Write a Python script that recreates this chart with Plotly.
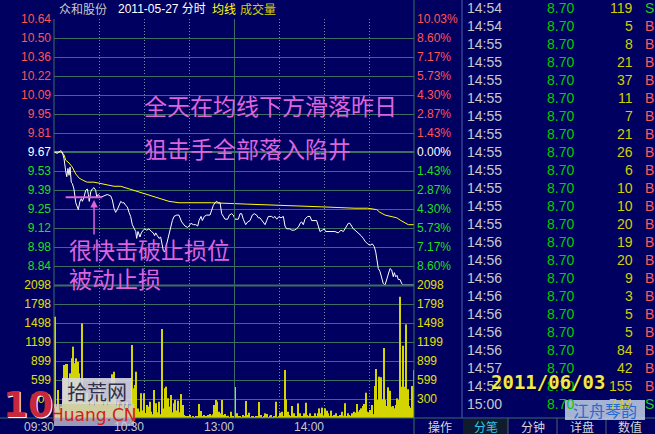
import plotly.graph_objects as go

BG = "#000060"
GRID = "#3d6e62"
DOT = "#6c8ca0"
RED = "#ff5555"
GREEN = "#22dd22"
YEL = "#e0e000"
MAG = "#dc64dc"
NUM = "Liberation Sans, Arial, sans-serif"
CJK = "Noto Sans CJK SC, sans-serif"

# ---------------- data ----------------
prev_close = 9.67
price_step = 0.13855           # 1.43 % of previous close
vol_step = 299.71

price_minute = [0, 2.2, 3.3, 4.5, 5.5, 6.7, 7.8, 8.5, 9.3, 10,
                10.7, 11.5, 12.2, 13.3, 14.5, 15.5, 16.2, 17.3, 18.2, 18.9,
                20, 21.1, 22.2, 22.9, 23.5, 24.5, 25.5, 26.7, 27.8, 28.5,
                29.5, 31.1, 33.3, 35.5, 37.8, 38.9, 40, 41.1, 42.2, 43.3,
                44.5, 45.5, 46.7, 47.8, 48.9, 50, 51.1, 52.2, 53.3, 54.5,
                55.1, 56, 57.3, 58.2, 59.5, 60.5, 61.8, 63.3, 64.9, 66.2,
                67.1, 67.8, 68.9, 70, 71.1, 72.2, 72.9, 73.8, 74.7, 75.5,
                76.7, 77.8, 78.9, 80, 81.8, 83.3, 84, 85.1, 87.3, 89.1,
                90, 91.3, 92.9, 94.5, 95.8, 96.7, 98, 98.9, 100.2, 101.8,
                104, 105.1, 106.2, 107.3, 108.5, 109.5, 110.7, 111.8, 112.9, 114,
                115.8, 116.9, 118.5, 119.5, 120.7, 122.9, 124, 125.1, 126.2, 127.8,
                129.1, 130.7, 132.2, 133.5, 135.1, 136.2, 137.3, 138.9, 140.7, 141.8,
                142.9, 145.1, 146.2, 147.3, 148.5, 150, 151.3, 152.9, 154, 155.1,
                157.3, 158.5, 160.2, 161.8, 163.3, 164, 165.1, 166.2, 167.3, 169.1,
                170.7, 171.8, 172.9, 175.1, 176.2, 177.3, 178.9, 180.2, 181.1, 182.9,
                185.1, 187.3, 189.5, 191.3, 192.9, 194, 195.1, 196.2, 197.3, 198.5,
                199.5, 200.7, 202.9, 204.7, 206.2, 207.3, 209.1, 210.7, 212.2, 213.5,
                214.5, 215.1, 216.2, 217.3, 218.5, 219.5, 220.7, 221.8, 222.9, 224,
                225.1, 226.2, 226.9, 227.8, 228.7, 229.5, 230.7, 231.8, 232.9, 240]
price_value = [9.67, 9.66, 9.67, 9.68, 9.67, 9.62, 9.53, 9.49, 9.55, 9.50,
               9.56, 9.45, 9.44, 9.40, 9.30, 9.27, 9.25, 9.31, 9.33, 9.31,
               9.34, 9.39, 9.40, 9.36, 9.31, 9.38, 9.40, 9.41, 9.39, 9.34,
               9.36, 9.34, 9.35, 9.36, 9.35, 9.32, 9.26, 9.23, 9.25, 9.28,
               9.31, 9.30, 9.30, 9.28, 9.27, 9.23, 9.20, 9.14, 9.11, 9.09,
               9.04, 9.09, 9.05, 9.08, 9.10, 9.11, 9.10, 9.11, 9.09, 9.08,
               9.06, 9.08, 9.06, 9.04, 9.05, 9.00, 8.95, 8.94, 8.98, 9.03,
               9.09, 9.14, 9.17, 9.20, 9.21, 9.21, 9.19, 9.16, 9.13, 9.12,
               9.13, 9.15, 9.14, 9.14, 9.13, 9.17, 9.20, 9.17, 9.20, 9.21,
               9.21, 9.25, 9.28, 9.30, 9.31, 9.30, 9.30, 9.22, 9.20, 9.18,
               9.18, 9.21, 9.22, 9.21, 9.18, 9.18, 9.22, 9.22, 9.18, 9.14,
               9.16, 9.17, 9.21, 9.22, 9.21, 9.19, 9.19, 9.17, 9.14, 9.17,
               9.20, 9.20, 9.19, 9.20, 9.18, 9.20, 9.19, 9.20, 9.13, 9.11,
               9.11, 9.10, 9.10, 9.11, 9.13, 9.15, 9.16, 9.14, 9.18, 9.20,
               9.20, 9.17, 9.17, 9.17, 9.13, 9.09, 9.10, 9.11, 9.09, 9.09,
               9.09, 9.09, 9.08, 9.10, 9.09, 9.11, 9.14, 9.15, 9.15, 9.13,
               9.11, 9.10, 9.08, 9.06, 9.04, 9.02, 9.00, 8.99, 9.00, 8.98,
               8.94, 8.89, 8.82, 8.80, 8.75, 8.71, 8.70, 8.74, 8.79, 8.82,
               8.81, 8.76, 8.79, 8.76, 8.77, 8.74, 8.74, 8.71, 8.70, 8.70]

avg_minute = [0, 4.5, 6.7, 7.8, 10, 12.2, 14.5, 16.7, 20, 22.2,
              26.7, 31.1, 37.8, 40, 44.5, 53.3, 57.8, 62.2, 66.7, 71.1,
              76.7, 83.3, 105.1, 128.5, 154, 164, 178.5, 200.7, 209.1, 215.1,
              217.3, 220.7, 224, 228.5, 231.3, 234, 236.2, 240]
avg_value = [9.67, 9.67, 9.65, 9.61, 9.59, 9.56, 9.51, 9.48, 9.46, 9.45,
             9.45, 9.44, 9.43, 9.42, 9.42, 9.39, 9.37, 9.36, 9.34, 9.33,
             9.31, 9.30, 9.30, 9.29, 9.28, 9.28, 9.27, 9.26, 9.26, 9.25,
             9.23, 9.21, 9.20, 9.19, 9.17, 9.15, 9.14, 9.14]

volume = [0, 1598, 180, 442, 120, 180, 250, 836, 852, 852,
          300, 705, 941, 1125, 862, 941, 888, 705, 300, 1493,
          350, 250, 400, 300, 200, 350, 280, 200, 300, 250,
          600, 560, 300, 200, 250, 300, 200, 350, 250, 690,
          730, 300, 200, 250, 150, 200, 300, 150, 200, 250,
          150, 200, 1151, 468, 520, 730, 150, 100, 389, 120,
          389, 80, 205, 179, 258, 100, 60, 442, 231, 90,
          258, 60, 1404, 150, 468, 494, 310, 179, 363, 90,
          231, 284, 120, 273, 90, 378, 205, 47, 20, 32,
          20, 47, 15, 21, 15, 32, 20, 221, 110, 30,
          47, 32, 32, 47, 63, 40, 60, 205, 284, 258,
          100, 74, 284, 47, 63, 20, 37, 15, 100, 32,
          20, 489, 74, 20, 32, 15, 47, 20, 268, 47,
          84, 15, 21, 32, 15, 32, 20, 252, 47, 15,
          21, 74, 63, 15, 37, 47, 15, 32, 258, 15,
          21, 84, 100, 21, 757, 294, 100, 47, 20, 189,
          74, 21, 30, 231, 74, 21, 30, 74, 242, 47,
          30, 74, 21, 30, 74, 21, 74, 152, 74, 163,
          40, 152, 116, 74, 21, 116, 30, 47, 74, 32,
          20, 47, 100, 37, 231, 30, 74, 47, 37, 74,
          100, 84, 221, 100, 126, 152, 189, 221, 400, 100,
          90, 126, 205, 60, 505, 773, 284, 652, 641, 294,
          1104, 284, 189, 484, 431, 179, 189, 152, 205, 310,
          284, 1913, 494, 1140, 494, 1477, 452, 189, 160, 505,
          757]
vol_minute = list(range(len(volume)))

price_labels = ["10.64", "10.50", "10.36", "10.22", "10.09", "9.95", "9.81",
                "9.67", "9.53", "9.39", "9.25", "9.12", "8.98", "8.84"]
pct_labels = ["10.03%", "8.60%", "7.17%", "5.73%", "4.30%", "2.87%", "1.43%",
              "0.00%", "1.43%", "2.87%", "4.30%", "5.73%", "7.17%", "8.60%"]
vol_labels = ["300", "599", "899", "1199", "1498", "1798", "2098"]
time_labels = ["09:30", "", "10:30", "", "13:00", "", "14:00", ""]

tick_times = ["14:54", "14:54", "14:55", "14:55", "14:55", "14:55", "14:55", "14:55",
              "14:55", "14:55", "14:55", "14:55", "14:55", "14:56", "14:56", "14:56",
              "14:56", "14:56", "14:56", "14:56", "14:57", "14:57", "15:00"]
tick_prices = ["8.70"] * 23
tick_vols = [119, 5, 8, 21, 37, 11, 7, 21, 26, 6, 10, 10, 20, 19, 20, 9, 3, 5, 5, 84, 42, 155, 744]
tick_sides = ["S"] + ["B"] * 21 + ["S"]

# ---------------- helpers (pixel -> paper) ----------------
L, R, T, B = 54, 414, 19, 418
def px(x): return (x - L) / (R - L)
def py(y): return (B - y) / (B - T)

ks = list(range(7, -7, -1))
price_ticks = [prev_close + k * price_step for k in ks]
def pcol(k): return RED if k > 0 else ("#ffffff" if k == 0 else GREEN)
price_text = [f'<span style="color:{pcol(k)}">{t}</span>' for k, t in zip(ks, price_labels)]
pct_text = [f'<span style="color:{pcol(k)}">{t}</span>' for k, t in zip(ks, pct_labels)]
vol_ticks = [vol_step * k for k in range(1, 8)]

fig = go.Figure()
fig.add_trace(go.Bar(x=vol_minute, y=volume, xaxis="x2", yaxis="y2", width=0.7,
                     marker=dict(color="#d4d400", line=dict(width=0)), hoverinfo="skip"))
fig.add_trace(go.Scatter(x=avg_minute, y=avg_value, mode="lines", xaxis="x", yaxis="y",
                         line=dict(color="#ffff00", width=1), hoverinfo="skip"))
fig.add_trace(go.Scatter(x=price_minute, y=price_value, mode="lines", xaxis="x", yaxis="y",
                         line=dict(color="#ffffff", width=1), hoverinfo="skip"))
fig.add_trace(go.Scatter(x=[120], y=[prev_close], mode="markers", xaxis="x", yaxis="y3",
                         marker=dict(opacity=0), hoverinfo="skip"))
fig.add_trace(go.Scatter(x=[120], y=[0], mode="markers", xaxis="x2", yaxis="y4",
                         marker=dict(opacity=0), hoverinfo="skip"))

prange = [prev_close - 7 * price_step - price_step / 19, prev_close + 7 * price_step]
tickfont = dict(family=NUM, size=12)
fig.update_layout(
    template="none",
    width=655, height=434, margin=dict(l=L, r=655 - R, t=T, b=434 - B, pad=0, autoexpand=False),
    paper_bgcolor=BG, plot_bgcolor=BG, showlegend=False,
    xaxis=dict(domain=[0, 1], range=[0, 240], anchor="y", tickvals=[30, 60, 90, 150, 180, 210],
               showticklabels=False, showgrid=True, gridcolor=DOT, griddash="1px,2px",
               zeroline=False, ticks="", showline=False, automargin=False),
    xaxis2=dict(domain=[0, 1], range=[0, 240], anchor="y2",
                tickvals=[0, 30, 60, 90, 120, 150, 180, 210], ticktext=time_labels,
                showgrid=True, gridcolor=DOT, griddash="1px,2px", zeroline=False, ticks="",
                showline=False, automargin=False,
                ticklabelposition="outside left", tickfont=dict(family=NUM, size=12, color="#c8c8c8")),
    yaxis=dict(domain=[py(286), 1], range=prange, tickvals=price_ticks, ticktext=price_text,
               showgrid=True, gridcolor=GRID, zeroline=False, ticks="", tickfont=tickfont,
               showline=False, automargin=False, ticklabelstandoff=2),
    yaxis3=dict(overlaying="y", side="right", anchor="x", range=prange, tickvals=price_ticks,
                ticktext=pct_text, showgrid=False, zeroline=False, ticks="", tickfont=tickfont,
                showline=False, automargin=False, ticklabelstandoff=2),
    yaxis2=dict(domain=[0, py(285)], range=[0, 7 * vol_step], tickvals=vol_ticks, ticktext=vol_labels,
                showgrid=True, gridcolor=GRID, zeroline=False, ticks="", showline=False, automargin=False,
                tickfont=dict(family=NUM, size=12, color=YEL), ticklabelstandoff=2),
    yaxis4=dict(overlaying="y2", side="right", anchor="x2", range=[0, 7 * vol_step], tickvals=vol_ticks,
                ticktext=vol_labels, showgrid=False, zeroline=False, ticks="", showline=False,
                automargin=False, tickfont=dict(family=NUM, size=12, color=YEL), ticklabelstandoff=2),
)

shapes = []
def hline(x0, x1, y, color=GRID, w=1):
    shapes.append(dict(type="line", xref="paper", yref="paper", x0=px(x0), x1=px(x1),
                       y0=py(y), y1=py(y), line=dict(color=color, width=w)))
def vline(x, y0, y1, color=GRID, w=1):
    shapes.append(dict(type="line", xref="paper", yref="paper", x0=px(x), x1=px(x),
                       y0=py(y0), y1=py(y1), line=dict(color=color, width=w)))
# chart frame
vline(54, 19, 418)
vline(234.5, 19, 418)
vline(414, 0, 434)
vline(462, 0, 418, color="#4a62a8")
hline(0, 655, 418)
hline(54, 414, 285.5, w=2)
shapes.append(dict(type="line", xref="x", yref="y", x0=0, x1=240, y0=prev_close, y1=prev_close,
                   line=dict(color=GRID, width=2), layer="below"))
# bottom tabs
shapes.append(dict(type="rect", xref="paper", yref="paper", x0=px(463), x1=px(508), y0=py(434),
                   y1=py(419), fillcolor="#101c2c", line=dict(width=0)))
for xs in [508, 557, 606]:
    vline(xs, 418, 434, color="#506070")
# annotation marks (magenta)
shapes.append(dict(type="line", xref="x", yref="y", x0=7.8, x1=32.2, y0=9.34, y1=9.34,
                   line=dict(color=MAG, width=2)))
# watermark boxes
shapes.append(dict(type="rect", xref="paper", yref="paper", x0=px(62), x1=px(132), y0=py(404),
                   y1=py(378), fillcolor="rgba(215,215,225,0.9)", line=dict(width=0)))
shapes.append(dict(type="rect", xref="paper", yref="paper", x0=px(54), x1=px(134), y0=py(426),
                   y1=py(404), fillcolor="rgba(205,205,215,0.75)", line=dict(width=0)))
shapes.append(dict(type="rect", xref="paper", yref="paper", x0=px(565), x1=px(645), y0=py(420),
                   y1=py(400), fillcolor="rgba(195,210,230,0.85)", line=dict(width=0)))

ann = []
def text(x, y, s, color, size=12, family=NUM, xanchor="left", weight="normal", shadow="none"):
    ann.append(dict(xref="paper", yref="paper", x=px(x), y=py(y), text=s, showarrow=False,
                    xanchor=xanchor, yanchor="middle",
                    font=dict(family=family, size=size, color=color, weight=weight, shadow=shadow)))

# title
text(57, 9, "众和股份", "#c8c8c8", family=CJK)
text(116, 9, "2011-05-27 分时", "#ffffff", family=NUM + ", " + CJK)
text(210, 9, "均线", "#ffff00", family=CJK)
text(238, 9, "成交量", "#d0d000", family=CJK)

# tick-by-tick list
for i in range(len(tick_times)):
    yy = 8.3 + 18 * i
    text(465, yy, tick_times[i], "#c8c8c8", size=14)
    text(545, yy, tick_prices[i], "#00cc00", size=14)
    text(635, yy, str(tick_vols[i]), "#d0d000", size=14, xanchor="right")
    text(643, yy, tick_sides[i], "#ff5a5a" if tick_sides[i] == "B" else "#22cc22", size=14)

# bottom tabs
text(440, 426, "操作", "#d8d8d8", size=12, family=CJK, xanchor="center")
text(486, 426, "分笔", "#30c8e8", size=12, family=CJK, xanchor="center")
text(533, 426, "分钟", "#d8d8d8", size=12, family=CJK, xanchor="center")
text(582, 426, "详盘", "#d8d8d8", size=12, family=CJK, xanchor="center")
text(630, 426, "数值", "#d8d8d8", size=12, family=CJK, xanchor="center")

# commentary
text(142, 105, "全天在均线下方滑落昨日", MAG, size=23, family=CJK)
text(142, 148, "狙击手全部落入陷井", MAG, size=23, family=CJK)
text(67, 249, "很快击破止损位", MAG, size=23, family=CJK)
text(67, 278, "被动止损", MAG, size=23, family=CJK)
ann.append(dict(xref="x", yref="y", x=26.7, y=9.32, text="", showarrow=True, ax=0, ay=36,
                arrowhead=2, arrowsize=1, arrowwidth=1.5, arrowcolor=MAG))

# watermarks
text(28, 404, "10", "#c8283c", size=36, family="DejaVu Sans", xanchor="center", weight="bold",
     shadow="1px 1px 0px #ffffff")
text(97, 391, "拾荒网", "#30304a", size=20, family=CJK, xanchor="center")
text(94, 415, "Huang.CN", "#d02020", size=17, family="DejaVu Sans", xanchor="center")
text(548, 382, "2011/06/03", "#f0e850", size=19, family="DejaVu Sans Mono", xanchor="center",
     weight="bold", shadow="1px 1px 1px #000000")
text(605, 410, "江舟琴韵", "#2a6ad0", size=16, family=CJK, xanchor="center")

fig.update_layout(shapes=shapes, annotations=ann)
fig.write_html("out.html", config={"displayModeBar": False},
               post_script="document.body.style.margin='0';document.body.style.overflow='hidden';")
